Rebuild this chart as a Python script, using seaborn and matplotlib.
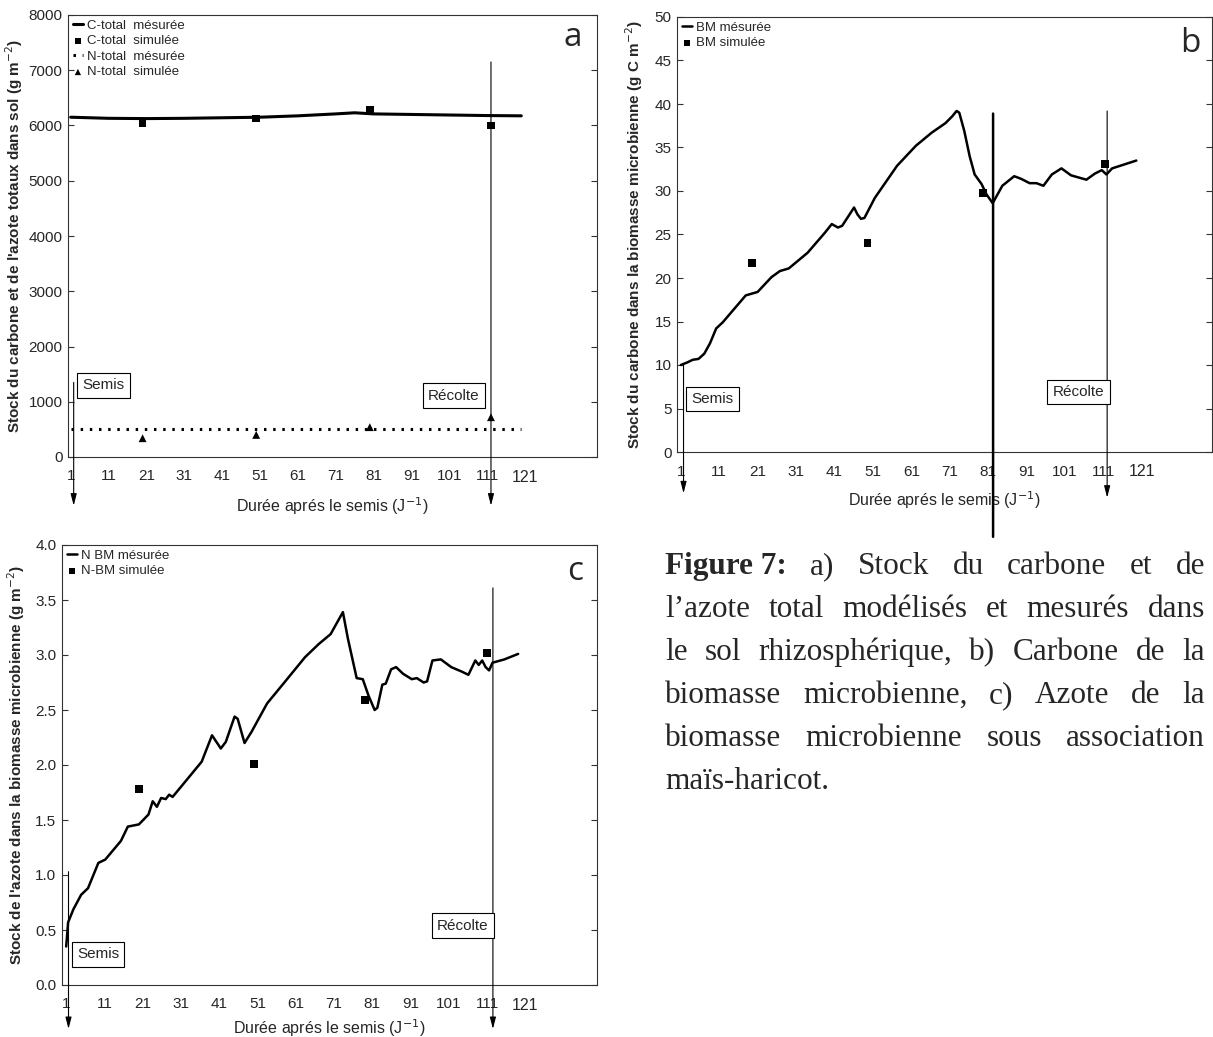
import matplotlib
matplotlib.use("Agg")
import matplotlib.pyplot as plt
import seaborn as sns
from matplotlib import font_manager

# ---------------- data ----------------
# panel a : total carbon / nitrogen in the soil
days_a = [1, 11, 21, 31, 41, 51, 61, 71, 76, 81, 91, 101, 111, 120]
c_total_mes = [6150, 6130, 6125, 6130, 6140, 6150, 6175, 6210, 6230, 6210, 6200, 6190, 6180, 6175]
days_n_mes = [1, 120]
n_total_mes = [500, 500]
days_sim_a = [20, 50, 80, 112]
c_total_sim = [6050, 6130, 6280, 6000]
n_total_sim = [340, 400, 540, 720]

# panel b : microbial biomass carbon
days_b = [1, 2.7, 4.1, 5.6, 7.1, 8.6, 10.2, 11.9, 17.9, 21.0, 24.6, 26.8, 29.1, 34.0, 38.5,
          40.3, 41.9, 43.0, 46.1, 47.0, 47.9, 48.8, 51.5, 57.3, 62.2, 66.3, 69.9, 71.7, 72.8,
          73.5, 74.8, 76.2, 77.5, 79.3, 80.6, 82.2, 84.7, 87.8, 89.6, 91.8, 93.6, 95.4, 97.6,
          100.1, 102.6, 106.6, 108.8, 110.6, 111.8, 113.3, 119.6]
bm_mes = [10.0, 10.3, 10.6, 10.7, 11.3, 12.5, 14.2, 14.9, 18.0, 18.4, 20.1, 20.8, 21.1, 22.9, 25.2,
          26.2, 25.8, 26.0, 28.1, 27.3, 26.8, 26.9, 29.2, 32.9, 35.2, 36.7, 37.8, 38.6, 39.2,
          39.0, 36.9, 34.0, 31.9, 30.8, 29.6, 28.6, 30.6, 31.7, 31.4, 30.9, 30.9, 30.6, 31.9,
          32.6, 31.8, 31.3, 32.0, 32.4, 31.9, 32.6, 33.5]
days_sim_b = [19.5, 49.6, 79.6, 111.5]
bm_sim = [21.7, 24.0, 29.8, 33.1]

# panel c : microbial biomass nitrogen
days_c = [1, 1.5, 2.9, 4.9, 6.7, 9.4, 11.2, 15.3, 17.1, 20.0, 22.5, 23.6, 24.7, 25.8, 27.0,
          27.9, 28.8, 31.9, 36.4, 39.1, 41.4, 42.7, 45.0, 45.8, 47.6, 49.4, 53.5, 58.0, 63.4,
          67.0, 70.1, 73.3, 74.6, 76.9, 78.5, 80.0, 81.6, 82.3, 83.6, 84.5, 85.9, 87.2, 89.0,
          91.3, 92.6, 94.4, 95.3, 96.7, 98.9, 101.6, 104.3, 106.1, 107.9, 108.8, 109.7, 110.6,
          111.5, 112.4, 115.5, 119.1]
nbm_mes = [0.35, 0.57, 0.69, 0.82, 0.88, 1.11, 1.14, 1.31, 1.44, 1.46, 1.55, 1.67, 1.62, 1.70, 1.69,
           1.73, 1.71, 1.84, 2.03, 2.27, 2.15, 2.21, 2.44, 2.42, 2.20, 2.30, 2.56, 2.75, 2.98,
           3.10, 3.19, 3.39, 3.15, 2.79, 2.78, 2.63, 2.50, 2.52, 2.73, 2.74, 2.87, 2.89, 2.83,
           2.78, 2.79, 2.75, 2.76, 2.95, 2.96, 2.89, 2.85, 2.82, 2.95, 2.91, 2.95, 2.89,
           2.86, 2.93, 2.96, 3.01]
days_sim_c = [20, 50, 79, 111]
nbm_sim = [1.78, 2.01, 2.59, 3.02]

day_ticks = [1, 11, 21, 31, 41, 51, 61, 71, 81, 91, 101, 111, 121]
caption = [
    [("Figure 7:", "bold"), ("a)", "normal"), ("Stock", "normal"), ("du", "normal"),
     ("carbone", "normal"), ("et", "normal"), ("de", "normal")],
    [("l\u2019azote", "normal"), ("total", "normal"), ("modélisés", "normal"), ("et", "normal"),
     ("mesurés", "normal"), ("dans", "normal")],
    [("le", "normal"), ("sol", "normal"), ("rhizosphérique,", "normal"), ("b)", "normal"),
     ("Carbone", "normal"), ("de", "normal"), ("la", "normal")],
    [("biomasse", "normal"), ("microbienne,", "normal"), ("c)", "normal"), ("Azote", "normal"),
     ("de", "normal"), ("la", "normal")],
    [("biomasse", "normal"), ("microbienne", "normal"), ("sous", "normal"), ("association", "normal")],
    [("maïs-haricot.", "normal")],
]

# ---------------- style ----------------
sns.set_style("ticks")
try:
    font_manager.findfont("Liberation Sans Narrow", fallback_to_default=False)
    narrow = "Liberation Sans Narrow"
except Exception:
    narrow = "Liberation Sans"
plt.rcParams["font.family"] = [narrow, "DejaVu Sans"]
plt.rcParams["axes.edgecolor"] = "#333333"
plt.rcParams["axes.linewidth"] = 0.8

W, H = 1213, 1037
fig = plt.figure(figsize=(W / 100, H / 100), dpi=100)


def px_axes(left, top, right, bottom):
    return fig.add_axes([left / W, 1 - bottom / H, (right - left) / W, (bottom - top) / H])


def style_axes(ax, xlim, ylim, yticks, yfmt, xlab_y, ylab_x, ylabel, letter, lx, ly):
    ax.set_xlim(*xlim)
    ax.set_ylim(*ylim)
    ax.set_xticks(day_ticks)
    ax.set_xticklabels([str(d) for d in day_ticks])
    ax.tick_params(axis="x", which="major", length=0, pad=9, labelsize=11)
    ax.set_xticks([1, 41, 81, 121], minor=True)
    ax.tick_params(axis="x", which="minor", direction="in", length=4, top=True, bottom=True,
                   color="#333333")
    lab121 = ax.get_xticklabels()[-1]
    lab121.set_family("Liberation Sans")
    lab121.set_fontsize(11.5)
    ax.set_yticks(yticks)
    ax.set_yticklabels([yfmt.format(v) for v in yticks])
    ax.tick_params(axis="y", direction="in", length=4, left=True, right=True, labelsize=11,
                   pad=4, color="#333333")
    ax.set_xlabel("Durée aprés le semis (J$^{-1}$)", fontsize=11.5)
    ax.xaxis.set_label_coords(0.5, xlab_y)
    ax.set_ylabel(ylabel, fontsize=11, fontweight="bold", family="Liberation Sans")
    ax.yaxis.set_label_coords(ylab_x, 0.5)
    ax.text(lx, ly, letter, transform=ax.transAxes, fontsize=24, family="Open Sans",
            ha="center", va="center")
    for s in ax.spines.values():
        s.set_visible(True)


def arrow(ax, x, ytop, yfrac, lw=0.8):
    ax.annotate("", xy=(x, yfrac), xycoords=("data", "axes fraction"),
                xytext=(x, ytop), textcoords="data",
                arrowprops=dict(arrowstyle="-|>,head_length=0.7,head_width=0.18",
                                lw=lw, color="black", shrinkA=0, shrinkB=0),
                annotation_clip=False)


def tag(ax, x, y, s):
    ax.text(x, y, s, fontsize=11, ha="center", va="center",
            bbox=dict(boxstyle="square,pad=0.35", fc="white", ec="black", lw=0.8))


def legend(ax):
    ax.legend(loc="upper left", frameon=False, fontsize=9.5, handlelength=0.8,
              handletextpad=0.3, labelspacing=0.25, borderaxespad=0.15, borderpad=0.2,
              markerscale=0.8)


# ---------------- panel a ----------------
ax = px_axes(68, 15, 597, 457)
sns.lineplot(x=days_a, y=c_total_mes, ax=ax, color="black", lw=2.2, label="C-total  mésurée",
             estimator=None, sort=False)
sns.scatterplot(x=days_sim_a, y=c_total_sim, ax=ax, color="black", marker="s", s=30,
                edgecolor="none", label="C-total  simulée")
sns.lineplot(x=days_n_mes, y=n_total_mes, ax=ax, color="black", lw=2.2,
             linestyle=(0, (0.8, 2.2)), label="N-total  mésurée", estimator=None)
sns.scatterplot(x=days_sim_a, y=n_total_sim, ax=ax, color="black", marker="^", s=32,
                edgecolor="none", label="N-total  simulée")
legend(ax)
style_axes(ax, (0.3, 140), (0, 8000), range(0, 8001, 1000), "{:d}", -0.086, -0.081,
           "Stock du carbone et de l'azote totaux dans sol (g m$^{-2}$)", "a", 0.955, 0.95)
arrow(ax, 1.8, 1350, -0.11)
arrow(ax, 112, 7150, -0.11)
tag(ax, 9.7, 1300, "Semis")
tag(ax, 102.2, 1110, "Récolte")

# ---------------- panel b ----------------
ax = px_axes(677, 17, 1212, 452)
sns.lineplot(x=days_b, y=bm_mes, ax=ax, color="black", lw=1.8, label="BM mésurée",
             estimator=None, sort=False)
sns.scatterplot(x=days_sim_b, y=bm_sim, ax=ax, color="black", marker="s", s=30,
                edgecolor="none", label="BM simulée")
legend(ax)
style_axes(ax, (0.0, 139.3), (0, 50), range(0, 51, 5), "{:d}", -0.085, -0.06,
           "Stock du carbone dans la biomasse microbienne (g C m$^{-2}$)", "b", 0.96, 0.94)
arrow(ax, 1.7, 10, -0.095)
arrow(ax, 112, 39.2, -0.105)
ax.annotate("", xy=(82.3, -0.195), xycoords=("data", "axes fraction"),
            xytext=(82.3, 38.9), textcoords="data",
            arrowprops=dict(arrowstyle="-", lw=1.8, color="black", shrinkA=0, shrinkB=0),
            annotation_clip=False)
tag(ax, 9.3, 6.1, "Semis")
tag(ax, 104.5, 6.9, "Récolte")

# ---------------- panel c ----------------
ax = px_axes(62, 545, 597, 985)
sns.lineplot(x=days_c, y=nbm_mes, ax=ax, color="black", lw=1.8, label="N BM mésurée",
             estimator=None, sort=False)
sns.scatterplot(x=days_sim_c, y=nbm_sim, ax=ax, color="black", marker="s", s=30,
                edgecolor="none", label="N-BM simulée")
legend(ax)
style_axes(ax, (-0.1, 139.7), (0, 4.0), [0, 0.5, 1.0, 1.5, 2.0, 2.5, 3.0, 3.5, 4.0], "{:.1f}",
           -0.073, -0.065, "Stock de l'azote dans la biomasse microbienne (g m$^{-2}$)",
           "c", 0.96, 0.94)
arrow(ax, 1.6, 1.03, -0.10)
arrow(ax, 112.5, 3.61, -0.10)
tag(ax, 9.3, 0.28, "Semis")
tag(ax, 104.7, 0.54, "Récolte")

# ---------------- caption (justified) ----------------
renderer = fig.canvas.get_renderer()
x0, x1 = 665, 1205
base0, step = 574, 43
for i, words in enumerate(caption):
    y = 1 - (base0 + i * step) / H
    arts = [fig.text(0, y, w, fontsize=22.5, family="Liberation Serif", fontweight=wt,
                     va="baseline") for w, wt in words]
    widths = [a.get_window_extent(renderer=renderer).width for a in arts]
    if len(arts) > 1:
        gap = (x1 - x0 - sum(widths)) / (len(arts) - 1)
    else:
        gap = 0
    x = x0
    for a, wd in zip(arts, widths):
        a.set_x(x / W)
        x += wd + gap

fig.savefig("out.png", dpi=100)
